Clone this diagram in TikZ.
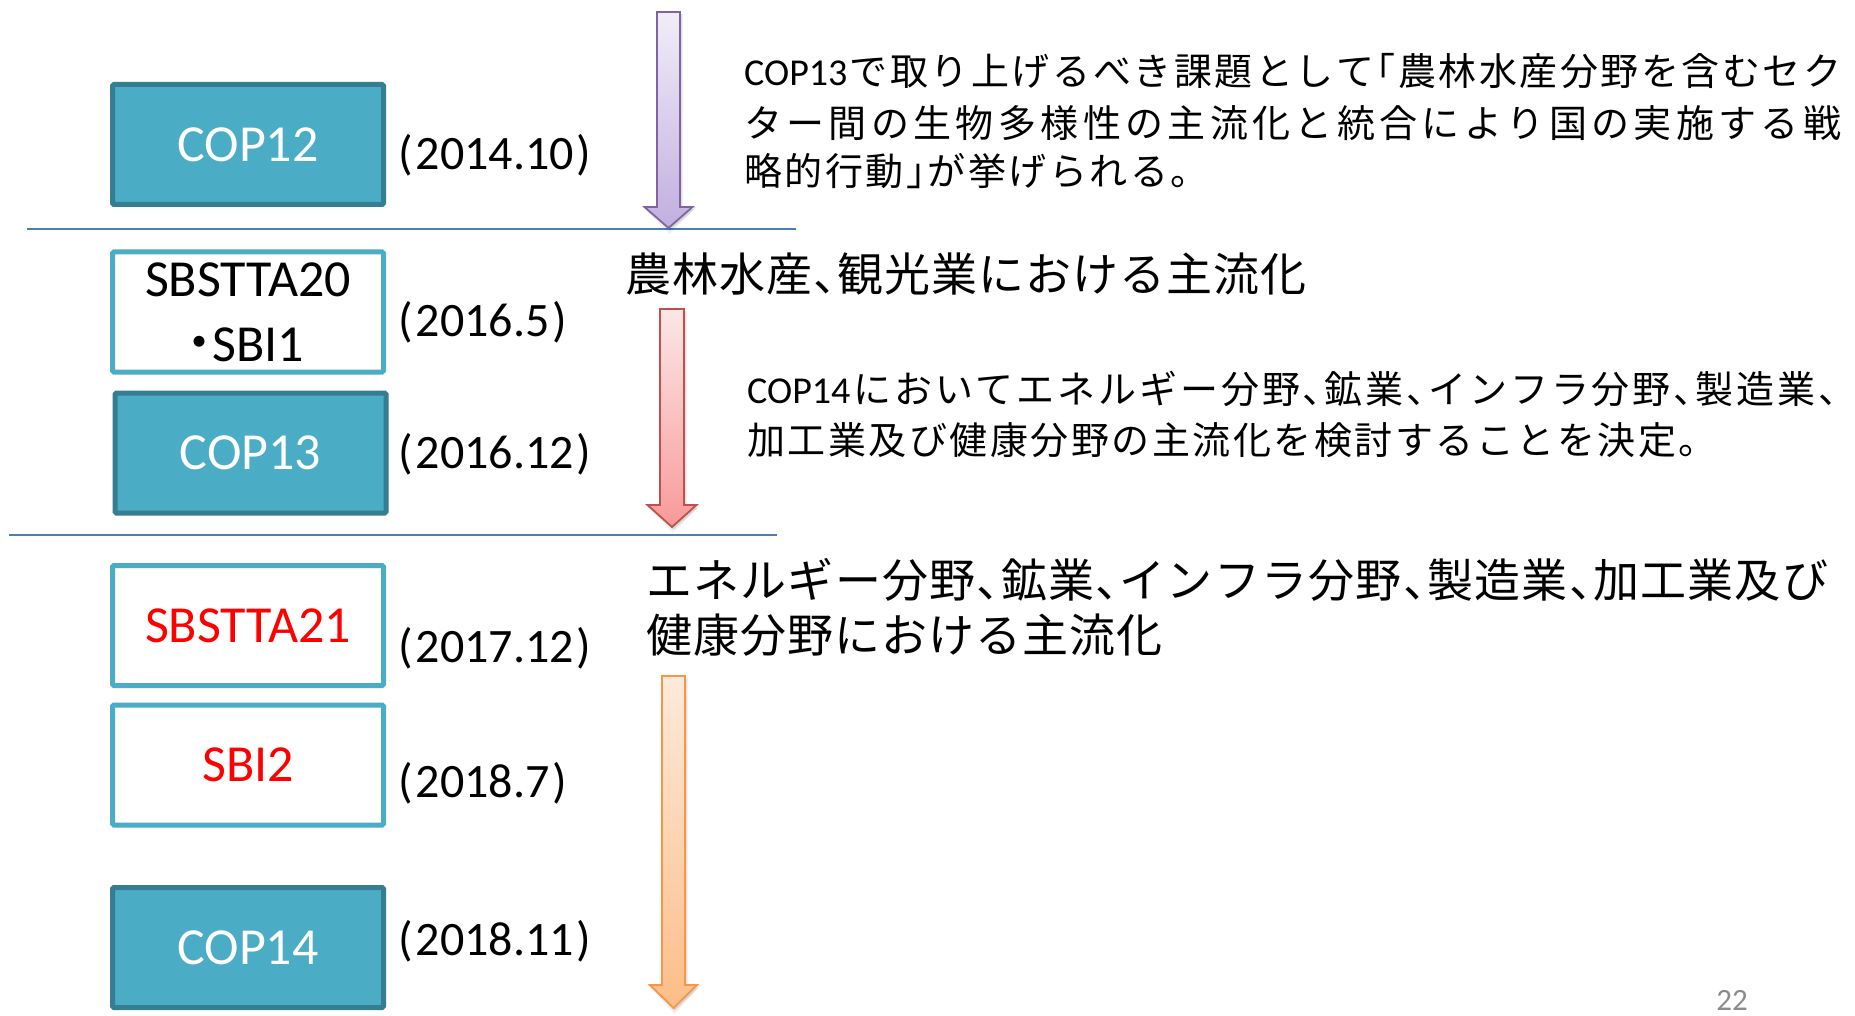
\documentclass[tikz,border=0pt]{standalone}
\usepackage{fontspec}
\setmainfont{Carlito}
\newfontfamily\jp{Noto Sans CJK JP}[RawFeature={+halt}]
\newfontfamily\lat{Carlito}
\newdimen\jgap
\def\sprd#1{\sprdB#1\relax}
\def\sprdB#1{#1\sprdA}
\def\sprdA#1{\ifx\relax#1\else\hskip\jgap plus 1fil minus 2pt\relax#1\expandafter\sprdA\fi}
\newcommand\smallfont{\jp\fontsize{38pt}{42pt}\selectfont\setlength\jgap{2.5pt}}
\newcommand\bigfont{\jp\fontsize{46pt}{52pt}\selectfont\setlength\jgap{1pt}}
\newcommand\latin[1]{{\lat\fontsize{38pt}{42pt}\selectfont #1}}
\newcommand\dt[1]{(\kern3pt#1\kern3pt)}
\definecolor{boxfill}{HTML}{4BACC6}
\definecolor{boxdark}{HTML}{357D90}
\definecolor{hlinec}{HTML}{4A7EBB}
\definecolor{pgray}{HTML}{8C8C8C}
\definecolor{purline}{HTML}{8064A2}
\definecolor{purtop}{HTML}{F1EDF8}
\definecolor{purbot}{HTML}{C2AEDF}
\definecolor{redline}{HTML}{C0504D}
\definecolor{redtop}{HTML}{FDE6E6}
\definecolor{redbot}{HTML}{F79A99}
\definecolor{orgline}{HTML}{F79646}
\definecolor{orgtop}{HTML}{FEEADB}
\definecolor{orgbot}{HTML}{FDBD87}
\newcommand\myblockarrow[7]{%
  \fill[black,opacity=0.06,xshift=1pt,yshift=-2pt] (#1-#5-2,#2) -- (#1+#5+2,#2) -- (#1+#5+2,#3-2) -- (#1+#6+3,#3-2) -- (#1,#4+4) -- (#1-#6-3,#3-2) -- (#1-#5-2,#3-2) -- cycle;
  \fill[black,opacity=0.10,xshift=1.5pt,yshift=-2.5pt] (#1-#5,#2) -- (#1+#5,#2) -- (#1+#5,#3) -- (#1+#6,#3) -- (#1,#4) -- (#1-#6,#3) -- (#1-#5,#3) -- cycle;
  \path[#7] (#1-#5,#2) -- (#1+#5,#2) -- (#1+#5,#3) -- (#1+#6,#3) -- (#1,#4) -- (#1-#6,#3) -- (#1-#5,#3) -- cycle;}
\tikzset{
  darkbox/.style={draw=boxdark, fill=boxfill, line width=5pt, rounded corners=1.5pt, minimum width=271pt, minimum height=120pt, inner sep=0pt, text=white, font=\lat\fontsize{52pt}{62pt}\selectfont},
  lightbox/.style={draw=boxfill, fill=white, line width=5pt, rounded corners=1.5pt, minimum width=271pt, minimum height=120pt, inner sep=0pt, text=black, font=\lat\fontsize{52pt}{65pt}\selectfont},
  datetxt/.style={anchor=base west, inner sep=0pt, font=\lat\fontsize{48pt}{56pt}\selectfont},
  jsmall/.style={anchor=base west, inner sep=0pt, font=\smallfont},
  jbig/.style={anchor=base west, inner sep=0pt, font=\bigfont},
  hline/.style={draw=hlinec, line width=1.6pt},
  parr/.style={draw=purline, line width=1.8pt, top color=purtop, bottom color=purbot},
  rarr/.style={draw=redline, line width=1.8pt, top color=redtop, bottom color=redbot},
  oarr/.style={draw=orgline, line width=1.8pt, top color=orgtop, bottom color=orgbot}
}
\begin{document}
\begin{tikzpicture}[x=1pt,y=-1pt]
\useasboundingbox (0,0) rectangle (1855,1016);
\fill[white] (0,0) rectangle (1855,1016);
% separators
\draw[hline] (27,229) -- (796,229);
\draw[hline] (9,535) -- (777,535);
% arrows
\myblockarrow{668.5}{12}{207}{228}{11.5}{24}{parr}
\myblockarrow{672}{309}{505}{527}{12}{24.5}{rarr}
\myblockarrow{673.5}{676}{985}{1008}{11.5}{23.5}{oarr}
% boxes
\node[darkbox] (cop12) at (248,144.5) {COP12};
\node[lightbox, align=center] (sbstta20) at (248,312) {SBSTTA20\\{\jp\kern-6pt・}SBI1};
\node[darkbox] (cop13) at (250.5,453) {COP13};
\node[lightbox, text=red] (sbstta21) at (248,625.5) {SBSTTA21};
\node[lightbox, text=red] (sbi2) at (248,765) {SBI2};
\node[darkbox] (cop14) at (248,947.5) {COP14};
% dates
\node[datetxt] (d1) at (398,170) {\dt{2014.10}};
\node[datetxt] (d2) at (398,337) {\dt{2016.5}};
\node[datetxt] (d3) at (398,468) {\dt{2016.12}};
\node[datetxt] (d4) at (398,662) {\dt{2017.12}};
\node[datetxt] (d5) at (398,797) {\dt{2018.7}};
\node[datetxt] (d6) at (398,955) {\dt{2018.11}};
% text blocks
\node[jsmall] (c13a) at (744,86) {\makebox[1097pt][s]{\latin{COP13}\hskip\jgap plus 1fil\relax\sprd{で取り上げるべき課題として「農林水産分野を含むセク}}};
\node[jsmall] (c13b) at (744,137.5) {\makebox[1097pt][s]{\sprd{ター間の生物多様性の主流化と統合により国の実施する戦}}};
\node[jsmall] (c13c) at (744,185.5) {\sprd{略的行動」が挙げられる。}};
\node[jbig] (agri) at (625,292) {\sprd{農林水産、観光業における主流化}};
\node[jsmall] (c14a) at (747,403) {\makebox[1090pt][s]{\latin{COP14}\hskip\jgap plus 1fil\relax\sprd{においてエネルギー分野、鉱業、インフラ分野、製造業、}}};
\node[jsmall] (c14b) at (747,454.5) {\sprd{加工業及び健康分野の主流化を検討することを決定。}};
\node[jbig] (ener1) at (646,597) {\makebox[1182pt][s]{\sprd{エネルギー分野、鉱業、インフラ分野、製造業、加工業及び}}};
\node[jbig] (ener2) at (646,652) {\sprd{健康分野における主流化}};
% page number
\node[anchor=base east, inner sep=0pt, text=pgray, font=\lat\fontsize{31pt}{34pt}\selectfont] (pg) at (1748,1010) {22};
\end{tikzpicture}
\end{document}
